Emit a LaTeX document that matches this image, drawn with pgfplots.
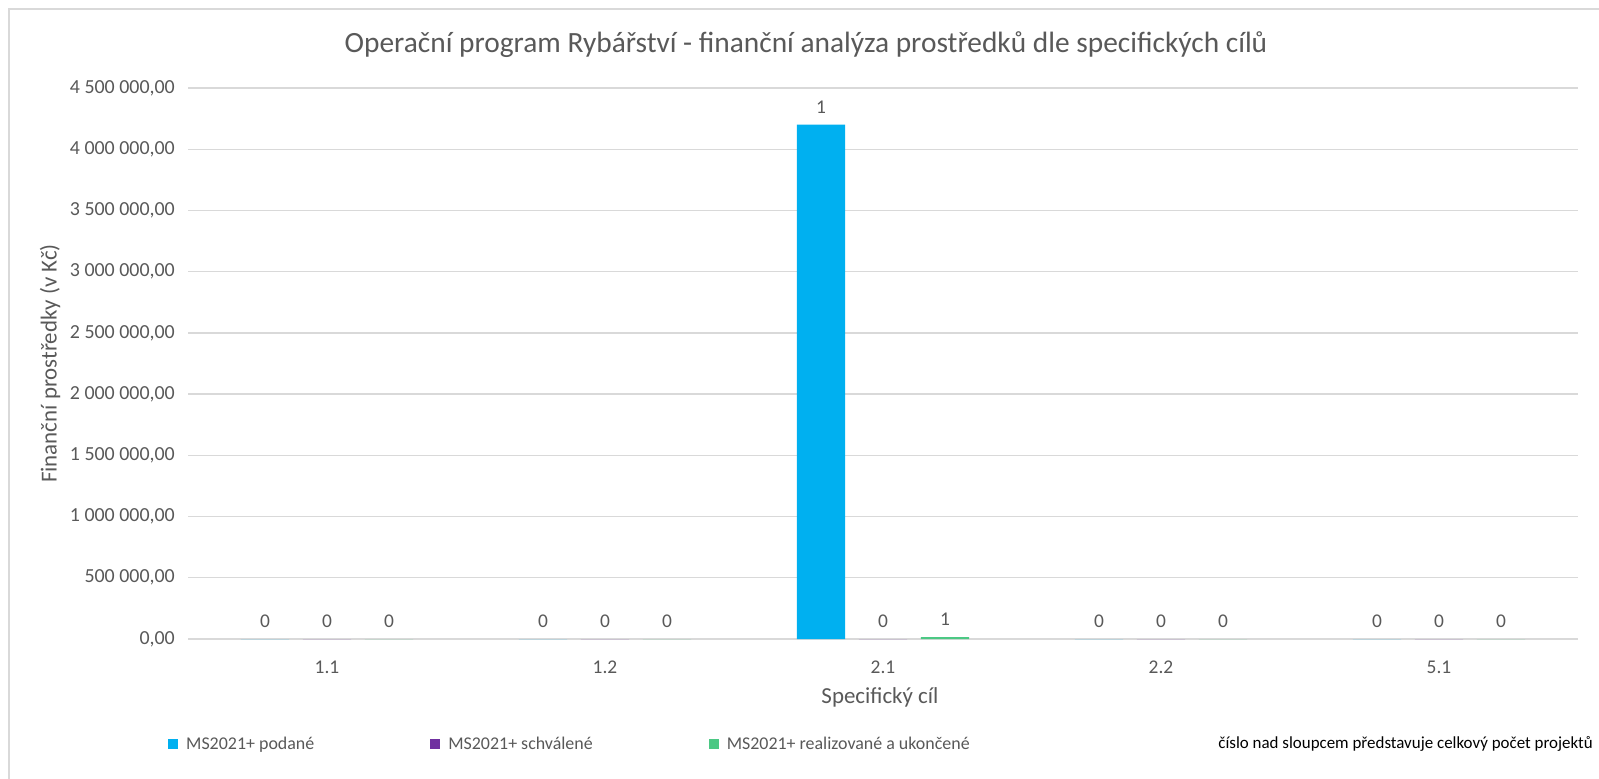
\documentclass[border=0pt]{standalone}
\usepackage{pgfplots}
\pgfplotsset{compat=1.18}
\usepackage{pgfplotstable}
\usepackage{fontspec}
\setmainfont{Carlito}
\definecolor{txt}{HTML}{595959}
\definecolor{gridc}{HTML}{D9D9D9}
\definecolor{cblue}{HTML}{00B0F0}
\definecolor{cpurple}{HTML}{7030A0}
\definecolor{cgreen}{HTML}{00B050}

\pgfplotstableread{
x y lab
0 0 0
1 0 0
2 4200000 1
3 0 0
4 0 0
}\podane
\pgfplotstableread{
x y lab
0 0 0
1 0 0
2 0 0
3 0 0
4 0 0
}\schvalene
\pgfplotstableread{
x y lab
0 0 0
1 0 0
2 15000 1
3 0 0
4 0 0
}\realizovane

\begin{document}
\begin{tikzpicture}
\useasboundingbox (0bp,0bp) rectangle (1599bp,-779bp);
\fill[white] (0bp,0bp) rectangle (1599bp,-779bp);
\draw[gridc, line width=2.2bp] (9bp,-779bp) -- (9bp,-9bp) -- (1599bp,-9bp);
\begin{axis}[
  at={(188bp,-88bp)}, anchor=north west,
  scale only axis, width=1390bp, height=551bp,
  ybar,
  xmin=-0.5, xmax=4.5, ymin=0, ymax=4500000,
  xtick={0,1,2,3,4},
  xticklabels={1.1,1.2,2.1,2.2,5.1},
  ytick={0,500000,...,4500000},
  scaled y ticks=false,
  ymajorgrids,
  grid style={gridc, line width=1.4bp},
  axis line style={draw=none},
  tick style={draw=none},
  /pgf/number format/.cd, fixed, fixed zerofill, precision=2, use comma, 1000 sep={\ }, assume math mode=true,
  /pgfplots/.cd,
  yticklabel style={font=\fontsize{20}{23}\selectfont, text=txt, anchor=east, inner sep=0pt, xshift=-13bp},
  xticklabel style={font=\fontsize{19.5}{22}\selectfont, text=txt, anchor=center, inner sep=0pt, yshift=-24bp},
  xlabel={Specifický cíl},
  ylabel={Finanční prostředky (v Kč)},
  every axis x label/.style={at={(axis description cs:0.4978,-0.1053)}, anchor=center, font=\fontsize{23}{26}\selectfont, text=txt},
  every axis y label/.style={at={(axis description cs:-0.0993,0.5)}, rotate=90, anchor=center, font=\fontsize{23}{26}\selectfont, text=txt},
  title={Operační program Rybářství - finanční analýza prostředků dle specifických cílů},
  every axis title/.style={at={(axis description cs:0.4446,1.078)}, anchor=center, font=\fontsize{29.5}{33}\selectfont, text=txt},
  bar width=0.173,
  nodes near coords,
  point meta=explicit symbolic,
  every node near coord/.append style={font=\fontsize{19.5}{22}\selectfont, text=txt, anchor=south, yshift=8bp},
  legend columns=3,
  legend style={draw=none, fill=none, at={(axis description cs:-0.0144,-0.1906)}, anchor=west, inner sep=0pt,
    font=\fontsize{18}{21}\selectfont, text=txt,
    nodes={inner sep=0pt, text=txt},
    /tikz/every odd column/.append style={column sep=8bp},
    /tikz/every even column/.append style={column sep=116bp}},
  legend image code/.code={\fill[#1, draw=none] (0bp,-5bp) rectangle (10bp,5bp);},
]
\addplot[fill=cblue, draw=none, bar shift=-0.223] table[x=x, y=y, meta=lab] {\podane};
\addplot[fill=cpurple, draw=none, bar shift=0] table[x=x, y=y, meta=lab] {\schvalene};
\addplot[fill=cgreen!70!white, draw=none, bar shift=0.223] table[x=x, y=y, meta=lab] {\realizovane};
\legend{MS2021+ podané, MS2021+ schválené, MS2021+ realizované a ukončené}
\end{axis}
\node[anchor=east, inner sep=0pt, font=\fontsize{17}{20}\selectfont, text=black] at (1593bp,-744bp) {číslo nad sloupcem představuje celkový počet projektů};
\end{tikzpicture}
\end{document}
